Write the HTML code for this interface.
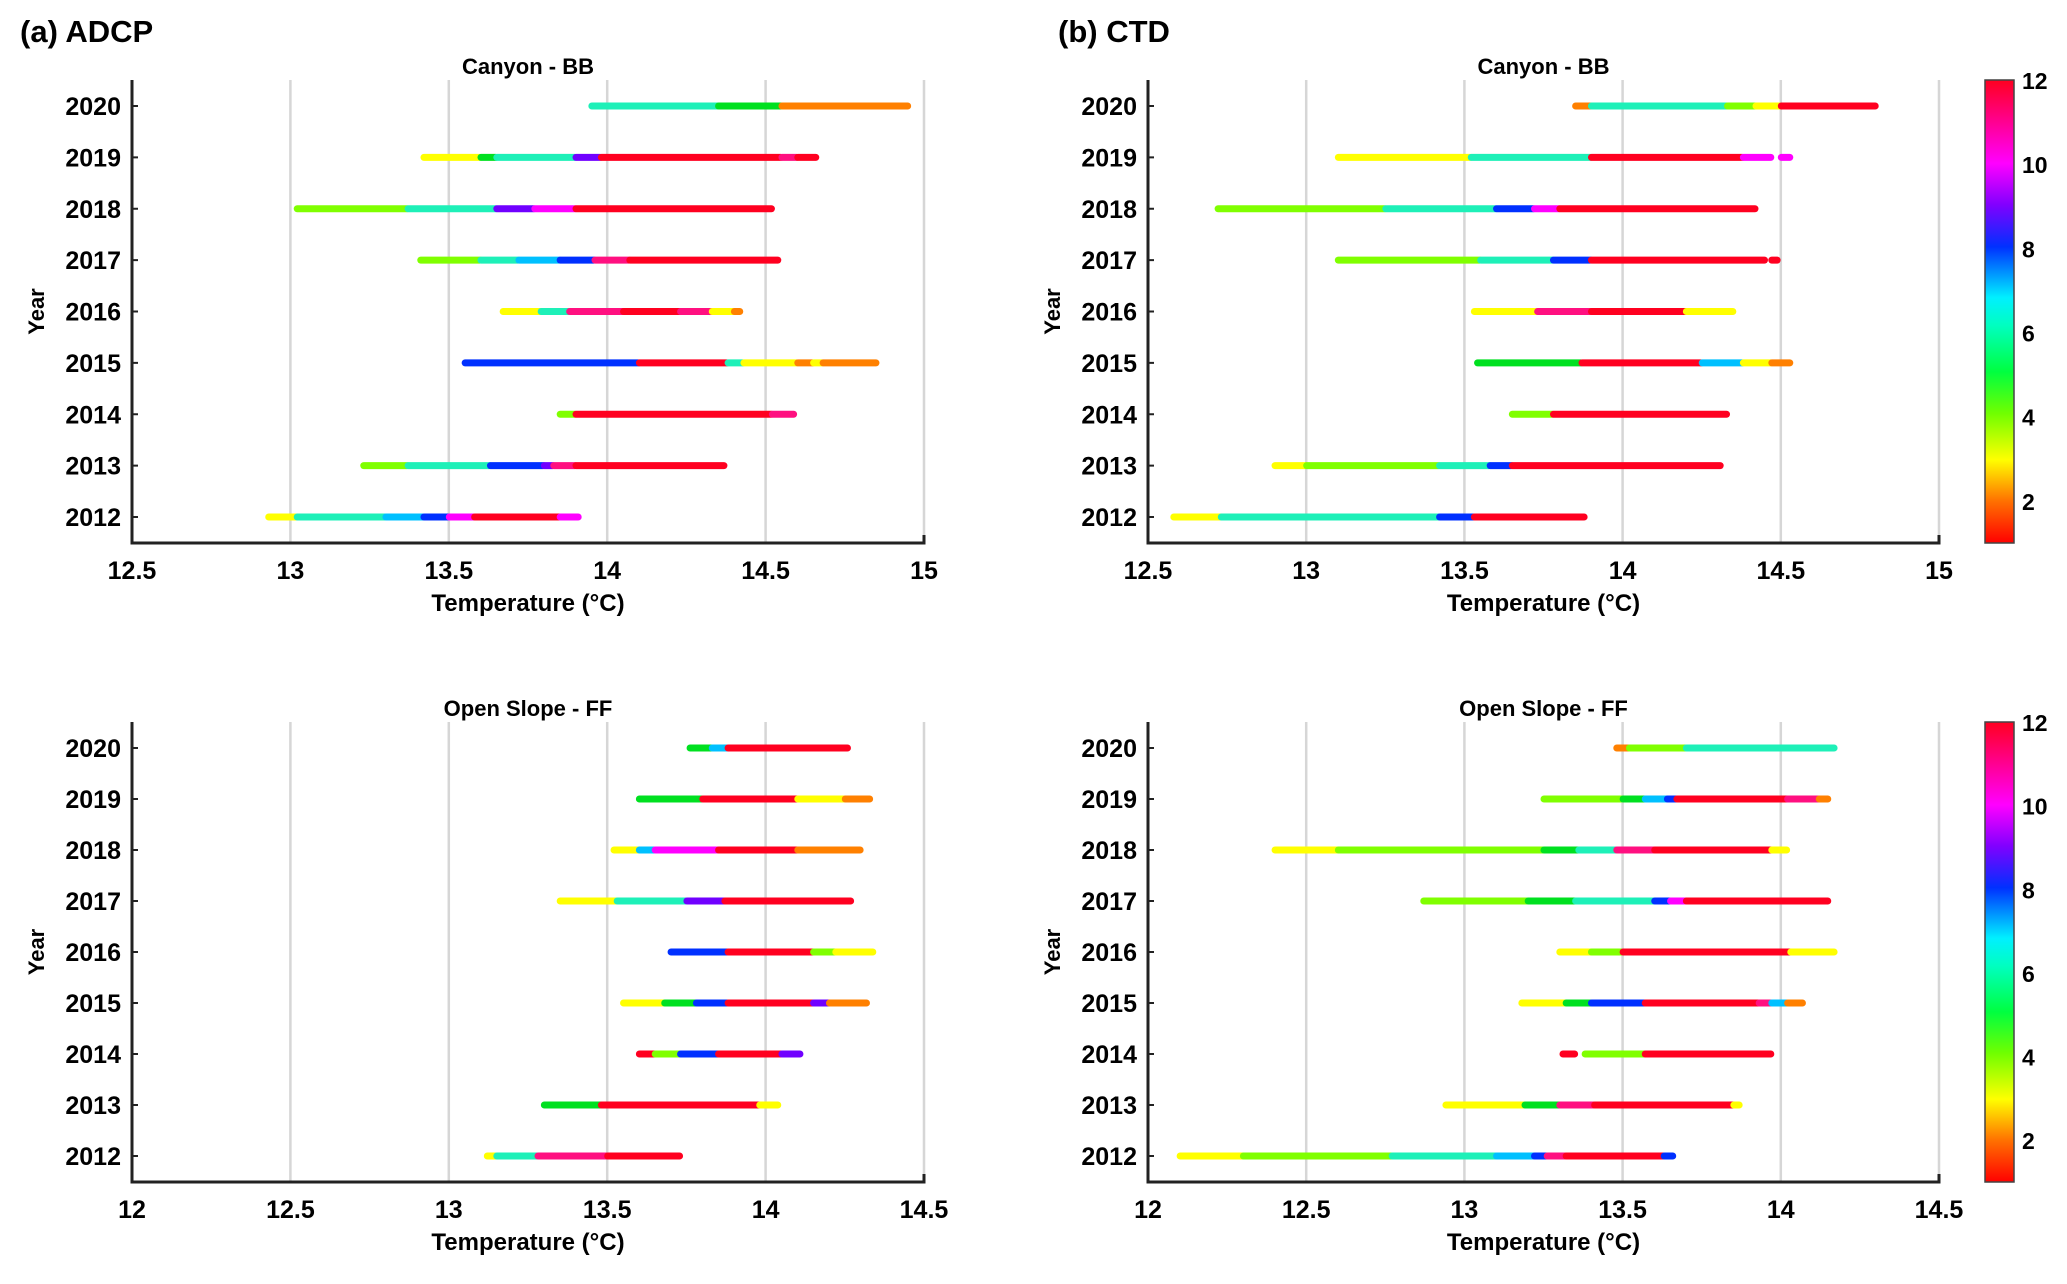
<!DOCTYPE html>
<html><head><meta charset="utf-8">
<style>
body{margin:0;background:#fff;}
svg{display:block;font-family:"Liberation Sans",sans-serif;font-weight:bold;}
</style></head>
<body>
<svg id="fig" width="2067" height="1284" viewBox="0 0 2067 1284" xmlns="http://www.w3.org/2000/svg">
<defs>
<linearGradient id="cmap" x1="0" y1="1" x2="0" y2="0">
<stop offset="0" stop-color="#ff0000"/>
<stop offset="0.09" stop-color="#ff7000"/>
<stop offset="0.18" stop-color="#ffff00"/>
<stop offset="0.28" stop-color="#70ff00"/>
<stop offset="0.37" stop-color="#00ff40"/>
<stop offset="0.47" stop-color="#00ffc0"/>
<stop offset="0.53" stop-color="#00f0ff"/>
<stop offset="0.64" stop-color="#0030ff"/>
<stop offset="0.73" stop-color="#8000ff"/>
<stop offset="0.82" stop-color="#ff00ff"/>
<stop offset="0.91" stop-color="#ff0090"/>
<stop offset="1" stop-color="#ff0020"/>
</linearGradient>
</defs>
<text x="20" y="42" font-size="31">(a) ADCP</text>
<text x="1058" y="42" font-size="31">(b) CTD</text>
</svg>
<script>
const years = [2012,2013,2014,2015,2016,2017,2018,2019,2020];
const monthColors = ['#ff0000','#ff0000','#ff8000','#ffff00','#80ff00','#00e020','#1ef0b8','#00c0ff','#0030ff','#7000ff','#ff00ff','#ff1080','#ff0020'];
// segments: [year, startTemp, endTemp, month]
const adcpCanyon = [
[2020,13.95,14.35,6],[2020,14.35,14.55,5],[2020,14.55,14.95,2],
[2019,13.42,13.6,3],[2019,13.6,13.65,5],[2019,13.65,13.9,6],[2019,13.9,13.98,9],[2019,13.98,14.55,12],[2019,14.55,14.6,11],[2019,14.6,14.66,12],
[2018,13.02,13.37,4],[2018,13.37,13.65,6],[2018,13.65,13.77,9],[2018,13.77,13.9,10],[2018,13.9,14.52,12],
[2017,13.41,13.6,4],[2017,13.6,13.72,6],[2017,13.72,13.85,7],[2017,13.85,13.96,8],[2017,13.96,14.07,11],[2017,14.07,14.54,12],
[2016,13.67,13.79,3],[2016,13.79,13.88,6],[2016,13.88,14.05,11],[2016,14.05,14.23,12],[2016,14.23,14.33,11],[2016,14.33,14.4,3],[2016,14.4,14.42,2],
[2015,13.55,14.1,8],[2015,14.1,14.38,12],[2015,14.38,14.43,6],[2015,14.43,14.6,3],[2015,14.6,14.65,2],[2015,14.65,14.68,3],[2015,14.68,14.85,2],
[2014,13.85,13.9,4],[2014,13.9,14.52,12],[2014,14.52,14.59,11],
[2013,13.23,13.37,4],[2013,13.37,13.63,6],[2013,13.63,13.8,8],[2013,13.8,13.83,9],[2013,13.83,13.9,11],[2013,13.9,14.37,12],
[2012,12.93,13.02,3],[2012,13.02,13.3,6],[2012,13.3,13.42,7],[2012,13.42,13.5,8],[2012,13.5,13.58,10],[2012,13.58,13.85,12],[2012,13.85,13.91,10]];
const ctdCanyon = [
[2020,13.85,13.9,2],[2020,13.9,14.33,6],[2020,14.33,14.42,4],[2020,14.42,14.5,3],[2020,14.5,14.8,12],
[2019,13.1,13.52,3],[2019,13.52,13.9,6],[2019,13.9,14.38,12],[2019,14.38,14.47,10],[2019,14.5,14.53,10],
[2018,12.72,13.25,4],[2018,13.25,13.6,6],[2018,13.6,13.72,8],[2018,13.72,13.8,10],[2018,13.8,14.42,12],
[2017,13.1,13.55,4],[2017,13.55,13.78,6],[2017,13.78,13.9,8],[2017,13.9,14.45,12],[2017,14.47,14.49,12],
[2016,13.53,13.73,3],[2016,13.73,13.9,11],[2016,13.9,14.2,12],[2016,14.2,14.35,3],
[2015,13.54,13.87,5],[2015,13.87,14.25,12],[2015,14.25,14.38,7],[2015,14.38,14.47,3],[2015,14.47,14.53,2],
[2014,13.65,13.78,4],[2014,13.78,14.33,12],
[2013,12.9,13.0,3],[2013,13.0,13.42,4],[2013,13.42,13.58,6],[2013,13.58,13.65,8],[2013,13.65,14.31,12],
[2012,12.58,12.73,3],[2012,12.73,13.42,6],[2012,13.42,13.53,8],[2012,13.53,13.88,12]];
const adcpSlope = [
[2020,13.76,13.83,5],[2020,13.83,13.88,7],[2020,13.88,14.26,12],
[2019,13.6,13.8,5],[2019,13.8,14.1,12],[2019,14.1,14.25,3],[2019,14.25,14.33,2],
[2018,13.52,13.6,3],[2018,13.6,13.65,7],[2018,13.65,13.85,10],[2018,13.85,14.1,12],[2018,14.1,14.3,2],
[2017,13.35,13.53,3],[2017,13.53,13.75,6],[2017,13.75,13.87,9],[2017,13.87,14.27,12],
[2016,13.7,13.88,8],[2016,13.88,14.15,12],[2016,14.15,14.22,4],[2016,14.22,14.34,3],
[2015,13.55,13.68,3],[2015,13.68,13.78,5],[2015,13.78,13.88,8],[2015,13.88,14.15,12],[2015,14.15,14.2,9],[2015,14.2,14.32,2],
[2014,13.6,13.65,12],[2014,13.65,13.73,4],[2014,13.73,13.85,8],[2014,13.85,14.05,12],[2014,14.05,14.11,9],
[2013,13.3,13.48,5],[2013,13.48,13.98,12],[2013,13.98,14.04,3],
[2012,13.12,13.15,3],[2012,13.15,13.28,6],[2012,13.28,13.5,11],[2012,13.5,13.73,12]];
const ctdSlope = [
[2020,13.48,13.52,2],[2020,13.52,13.7,4],[2020,13.7,14.17,6],
[2019,13.25,13.5,4],[2019,13.5,13.57,5],[2019,13.57,13.64,7],[2019,13.64,13.67,8],[2019,13.67,14.02,12],[2019,14.02,14.12,11],[2019,14.12,14.15,2],
[2018,12.4,12.6,3],[2018,12.6,13.25,4],[2018,13.25,13.36,5],[2018,13.36,13.48,6],[2018,13.48,13.6,11],[2018,13.6,13.97,12],[2018,13.97,14.02,3],
[2017,12.87,13.2,4],[2017,13.2,13.35,5],[2017,13.35,13.6,6],[2017,13.6,13.65,8],[2017,13.65,13.7,10],[2017,13.7,14.15,12],
[2016,13.3,13.4,3],[2016,13.4,13.5,4],[2016,13.5,14.03,12],[2016,14.03,14.17,3],
[2015,13.18,13.32,3],[2015,13.32,13.4,5],[2015,13.4,13.57,8],[2015,13.57,13.93,12],[2015,13.93,13.97,11],[2015,13.97,14.02,7],[2015,14.02,14.07,2],
[2014,13.31,13.35,12],[2014,13.38,13.57,4],[2014,13.57,13.97,12],
[2013,12.94,13.19,3],[2013,13.19,13.3,5],[2013,13.3,13.41,11],[2013,13.41,13.85,12],[2013,13.85,13.87,3],
[2012,12.1,12.3,3],[2012,12.3,12.77,4],[2012,12.77,13.1,6],[2012,13.1,13.22,7],[2012,13.22,13.26,8],[2012,13.26,13.32,11],[2012,13.32,13.63,12],[2012,13.63,13.66,8]];
const ticksA = [12.5,13,13.5,14,14.5,15];
const ticksB = [12,12.5,13,13.5,14,14.5];
const cbTicks = [2,4,6,8,10,12];

const NS='http://www.w3.org/2000/svg';
const svg=document.getElementById('fig');
function mk(tag,attrs,parent){const e=document.createElementNS(NS,tag);for(const k in attrs)e.setAttribute(k,attrs[k]);(parent||svg).appendChild(e);return e;}
function txt(x,y,s,size,anchor,name,parent){const t=mk('text',{x:x,y:y,'font-size':size,'text-anchor':anchor||'middle'},parent);t.textContent=s;


return t;}

function panel(id,title,L,R,T,B,y20,y12,ticks,data,cb){
  const g=mk('g',{});
  
  
  const x0=ticks[0],x1=ticks[ticks.length-1];
  const xs=v=>L+(v-x0)/(x1-x0)*(R-L);
  const ys=y=>y12+(y-2012)/(2020-2012)*(y20-y12);
  ticks.forEach(t=>{
    const gl=mk('line',{x1:xs(t),x2:xs(t),y1:T,y2:B,stroke:'#d6d6d6','stroke-width':2.5},g);
    
    
    txt(xs(t),B+36,String(t),25,'middle','x-tick-label',g);
  });
  data.forEach(d=>{
    const r=mk('rect',{x:xs(d[1])-3,y:ys(d[0])-3.5,width:Math.max(4,xs(d[2])-xs(d[1])+6),height:7,rx:3.5,fill:monthColors[d[3]]},g);
    
    
  });
  years.forEach(y=>{
    txt(L-11,ys(y)+9,String(y),25,'end','y-tick-label',g);
    mk('line',{x1:L,x2:L+6,y1:ys(y),y2:ys(y),stroke:'#222','stroke-width':2},g);
  });
  const ax=mk('path',{d:`M${L} ${T} V${B} H${R} V${B-8}`,fill:'none',stroke:'#222','stroke-width':3},g);
  
  
  txt((L+R)/2,T-6,title,22,'middle','panel-title',g);
  txt((L+R)/2,B+68,'Temperature (°C)',24,'middle','x-axis-title',g);
  const yt=txt(0,0,'Year',22,'middle','y-axis-title',g);
  yt.setAttribute('transform',`translate(${L-88},${(T+B)/2}) rotate(-90)`);
  if(cb){
    const cx=1985,cw=29;
    const bar=mk('rect',{x:cx,y:T,width:cw,height:B-T,fill:'url(#cmap)',stroke:'#444','stroke-width':1.5},g);
    
    
    cbTicks.forEach(v=>{
      const yy=B-(v-1)/11*(B-T);
      txt(cx+cw+8,yy+9,String(v),23,'start','colorbar-tick-label',g);
    });
  }
}
panel('adcp-canyon-panel','Canyon - BB',132,924,80,543,106,517,ticksA,adcpCanyon,false);
panel('ctd-canyon-panel','Canyon - BB',1148,1939,80,543,106,517,ticksA,ctdCanyon,true);
panel('adcp-slope-panel','Open Slope - FF',132,924,722,1182,748,1156,ticksB,adcpSlope,false);
panel('ctd-slope-panel','Open Slope - FF',1148,1939,722,1182,748,1156,ticksB,ctdSlope,true);
</script>
</body></html>
